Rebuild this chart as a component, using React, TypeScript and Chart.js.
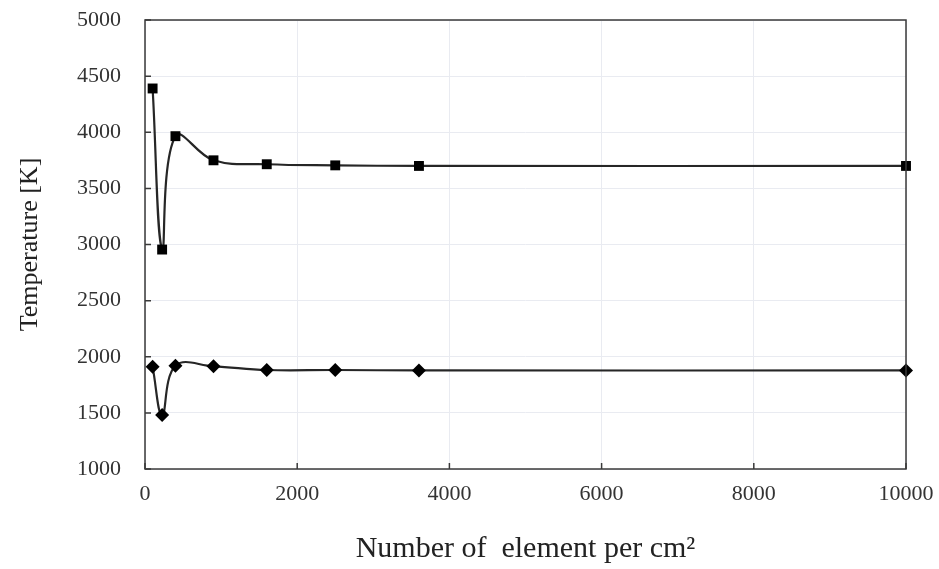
import React, { useEffect, useRef } from "react";
import { Chart, registerables } from "chart.js";

Chart.register(...registerables);

// Mesh density (elements per cm²) and the resulting temperatures
const elementsPerCm2 = [100, 225, 400, 900, 1600, 2500, 3600, 10000];
const maxTemperature = [4390, 2955, 3965, 3750, 3715, 3705, 3700, 3700];
const meanTemperature = [1910, 1480, 1920, 1915, 1882, 1882, 1878, 1878];

const xTicks = [0, 2000, 4000, 6000, 8000, 10000];
const yTicks = [1000, 1500, 2000, 2500, 3000, 3500, 4000, 4500, 5000];

const FONT = "'Liberation Serif', 'DejaVu Serif', serif";
const INK = "#262626";

// Frame around the plot area plus short inward tick marks
const framePlugin = {
  id: "frame",
  afterDatasetsDraw(chart: any) {
    const { ctx, chartArea: a, scales } = chart;
    ctx.save();
    ctx.strokeStyle = "#3a3a3a";
    ctx.lineWidth = 1.5;
    ctx.strokeRect(a.left, a.top, a.right - a.left, a.bottom - a.top);
    ctx.beginPath();
    for (const v of yTicks) {
      const y = scales.y.getPixelForValue(v);
      ctx.moveTo(a.left, y);
      ctx.lineTo(a.left + 6, y);
    }
    for (const v of xTicks) {
      const x = scales.x.getPixelForValue(v);
      ctx.moveTo(x, a.bottom);
      ctx.lineTo(x, a.bottom - 6);
    }
    ctx.stroke();
    ctx.restore();
  },
};

export default function App() {
  const canvasRef = useRef<HTMLCanvasElement | null>(null);

  useEffect(() => {
    if (!canvasRef.current) return;
    const toPoints = (ys: number[]) =>
      elementsPerCm2.map((x, i) => ({ x, y: ys[i] }));

    const chart = new Chart(canvasRef.current, {
      type: "line",
      data: {
        datasets: [
          {
            label: "Maximum temperature",
            data: toPoints(maxTemperature),
            borderColor: INK,
            backgroundColor: "#000000",
            borderWidth: 2.2,
            tension: 0.4,
            pointStyle: "rect",
            pointRadius: 7,
            pointBorderWidth: 0,
            clip: false,
          },
          {
            label: "Mean temperature",
            data: toPoints(meanTemperature),
            borderColor: INK,
            backgroundColor: "#000000",
            borderWidth: 2.2,
            tension: 0.4,
            pointStyle: "rectRot",
            pointRadius: 7,
            pointBorderWidth: 0,
            clip: false,
          },
        ],
      },
      options: {
        animation: false,
        responsive: false,
        maintainAspectRatio: false,
        layout: { padding: { top: 20, right: 33, left: 0, bottom: 0 } },
        plugins: { legend: { display: false }, tooltip: { enabled: false } },
        scales: {
          x: {
            type: "linear",
            min: 0,
            max: 10000,
            afterBuildTicks: (s: any) => {
              s.ticks = xTicks.map((value) => ({ value }));
            },
            afterFit: (s: any) => {
              s.height = 100;
              s.paddingLeft = 0;
              s.paddingRight = 0;
            },
            grid: { color: "#e9ebf1", lineWidth: 1, drawTicks: false },
            border: { display: false },
            ticks: {
              color: "#333",
              padding: 12,
              font: { family: FONT, size: 22 },
              callback: (v: any) => String(v),
            },
            title: {
              display: true,
              text: "Number of  element per cm²",
              color: "#222",
              font: { family: FONT, size: 30 },
              padding: { top: 10, bottom: 2 },
            },
          },
          y: {
            type: "linear",
            min: 1000,
            max: 5000,
            afterBuildTicks: (s: any) => {
              s.ticks = yTicks.map((value) => ({ value }));
            },
            afterFit: (s: any) => {
              s.width = 145;
              s.paddingTop = 0;
              s.paddingBottom = 0;
            },
            grid: { color: "#e9ebf1", lineWidth: 1, drawTicks: false },
            border: { display: false },
            ticks: {
              color: "#333",
              padding: 24,
              font: { family: FONT, size: 22 },
              callback: (v: any) => String(v),
            },
            title: {
              display: true,
              text: "Temperature [K]",
              color: "#222",
              font: { family: FONT, size: 26 },
              padding: { top: 15, bottom: 0 },
            },
          },
        },
      },
      plugins: [framePlugin],
    });
    return () => chart.destroy();
  }, []);

  return (
    <div
      style={{
        position: "fixed",
        left: 0,
        top: 0,
        width: 939,
        height: 569,
        background: "#ffffff",
      }}
    >
      <canvas ref={canvasRef} width={939} height={569} />
    </div>
  );
}
